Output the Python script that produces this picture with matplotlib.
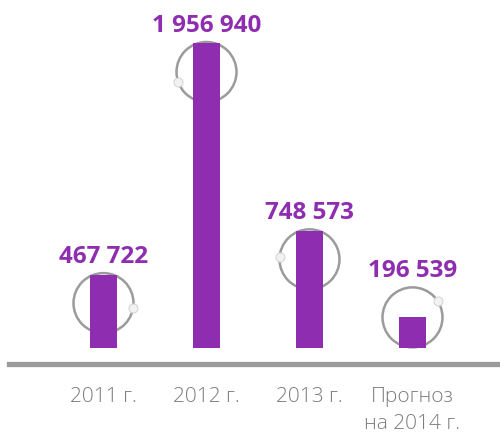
import numpy as np
import matplotlib.pyplot as plt
from matplotlib.transforms import offset_copy

# Data
categories = ['2011 г.', '2012 г.', '2013 г.', 'Прогноз\nна 2014 г.']
values = [467722, 1956940, 748573, 196539]
value_labels = ['467 722', '1 956 940', '748 573', '196 539']

# decoration: circle centre below bar top (px) and dot angle (deg)
circle_drop = [28, 29, 28, 0]
dot_angle = [-10, 199, 176, 32]

purple = '#8E2DB0'
grey = '#9B9B9B'

fig = plt.figure(figsize=(5, 4.33), dpi=100)
ax = fig.add_axes([0, 0, 1, 1])
ax.set_axis_off()

# scale: 305 px for the biggest bar, bars start 85 px above the bottom
k = max(values) / 305.0
ax.set_ylim(-85 * k, 348 * k)
ax.set_xlim(-103.5 / 103, (500 - 103.5) / 103)

x = np.arange(len(values))
ax.bar(x, values, width=27 / 103, color=purple, zorder=3)

# baseline
ax.axhline(-15.5 * k, xmin=9 / 500, xmax=1, color=grey, lw=3.8, zorder=1)

r = 30  # circle radius, px
for i, v in enumerate(values):
    tr = offset_copy(ax.transData, fig, x=0, y=-circle_drop[i], units='dots')
    ax.scatter([x[i]], [v], s=(2 * r * 0.72) ** 2, facecolors='none',
               edgecolors=grey, linewidths=1.8, transform=tr, zorder=2)
    a = np.deg2rad(dot_angle[i])
    tr_dot = offset_copy(ax.transData, fig, x=r * np.cos(a),
                         y=-circle_drop[i] + r * np.sin(a), units='dots')
    ax.scatter([x[i]], [v], s=42, facecolors='#F2F2F2', edgecolors='#D6D6D6',
               linewidths=0.8, transform=tr_dot, zorder=4)
    # value label above the circle top
    ax.annotate(value_labels[i], (x[i], v),
                xytext=(0, (r - circle_drop[i] + 10) * 0.72),
                textcoords='offset points', ha='center', va='baseline',
                fontsize=17.5, fontweight='bold', color=purple,
                family='Open Sans')

# category labels
for i, c in enumerate(categories):
    ax.annotate(c, (x[i], 0), xytext=(0, -39 * 0.72), textcoords='offset points',
                ha='center', va='top', fontsize=15, color='#7C7C7C',
                family='Open Sans', fontweight='light', linespacing=1.45)

fig.savefig('out.png', dpi=100)
